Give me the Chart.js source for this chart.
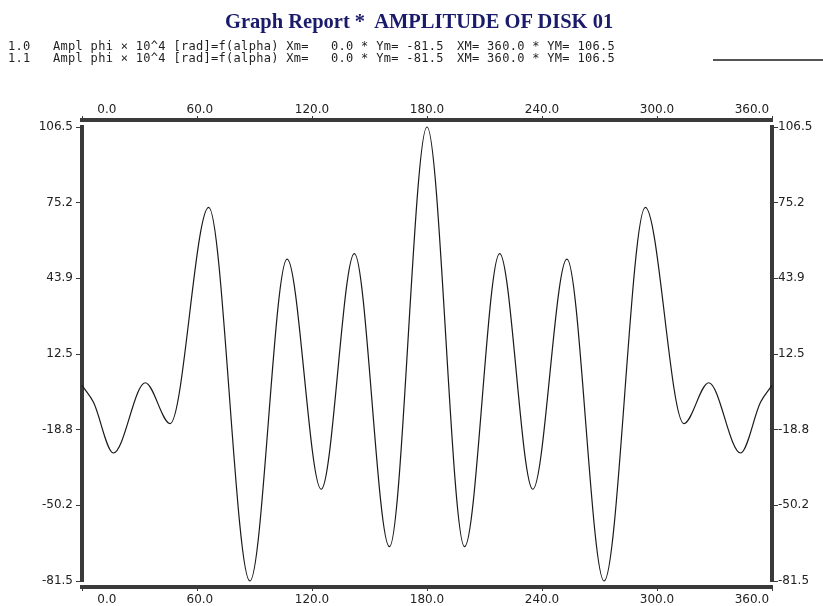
<!DOCTYPE html>
<html><head><meta charset="utf-8">
<script src="https://cdn.jsdelivr.net/npm/chart.js@4.4.1/dist/chart.umd.min.js"></script>
<style>
html,body{margin:0;padding:0;background:#fff;}
#wrap{position:relative;width:823px;height:606px;overflow:hidden;background:#fff;}
#c{position:absolute;left:0;top:0;}
.t{position:absolute;white-space:pre;}
#title{left:225px;top:11px;font:bold 20.5px/20.5px 'Liberation Serif',serif;color:#1b1b6b;}
.hd{font:12px/12px 'DejaVu Sans Mono',monospace;letter-spacing:0.3px;color:#1e1e1e;}
#rule{position:absolute;left:713px;top:59px;width:110px;height:2px;background:#555;}
</style></head><body>
<div id="wrap">
<canvas id="c" width="823" height="606"></canvas>
<div id="title" class="t">Graph Report *  AMPLITUDE OF DISK 01</div>
<div id="hdr"></div>
<div id="rule"></div>
</div>
<script>
// ---- data ----
const alphaDeg  = [0, 6, 16.4, 33.0, 46.0, 66.1, 87.6, 107.0, 124.8, 142.1, 160.4, 180, 199.6, 217.9, 235.2, 253.0, 272.4, 293.9, 314.0, 327.0, 343.6, 354, 360];
const amplitude = [-0.5, -7.5, -28.5, 0.6, -16.3, 73.2, -81.5, 51.8, -43.5, 54.1, -67.3, 106.5, -67.3, 54.1, -43.5, 51.8, -81.5, 73.2, -16.3, 0.6, -28.5, -7.5, -0.5];

const xTickValues = [0, 60, 120, 180, 240, 300, 360];
const xTickLabels = ['0.0', '60.0', '120.0', '180.0', '240.0', '300.0', '360.0'];
const yMin = -81.5, yMax = 106.5;
const yTickLabels = ['-81.5', '-50.2', '-18.8', '12.5', '43.9', '75.2', '106.5'];

const seriesIds  = ['1.0', '1.1'];
const seriesName = 'Ampl phi \u00d7 10^4 [rad]=f(alpha)';
const headXm = '0.0', headYm = '-81.5', headXM = '360.0', headYM = '106.5';

// ---- layout / style constants ----
const xLabelAnchors = [13, 61.5, 120, 180, 240, 300, 349.5];
const headerSegX = [8, 53, 331, 457];
const headerRowTop = [40, 52];
const AXIS = '#3a3a3a', TXT = '#222';

// header rows
const hdr = document.getElementById('hdr');
seriesIds.forEach((id, r) => {
  const segs = [id, seriesName + ' Xm=', headXm + ' * Ym= ' + headYm, 'XM= ' + headXM + ' * YM= ' + headYM];
  segs.forEach((s, k) => {
    const d = document.createElement('div');
    d.className = 't hd';
    d.style.left = headerSegX[k] + 'px';
    d.style.top = headerRowTop[r] + 'px';
    d.textContent = s;
    hdr.appendChild(d);
  });
});

const yStep = (yMax - yMin) / (yTickLabels.length - 1);
const yTickValues = yTickLabels.map((_, i) => yMin + i * yStep);

const tickFont = {family: "'DejaVu Sans', sans-serif", size: 12, lineHeight: 1};
const setTicks = vals => s => { s.ticks = vals.map(v => ({value: v})); };
const fixH = h => s => { s.height = h; };
const fixW = w => s => { s.width = w; };

const spacer = (pos, h, weight) => ({
  type: 'linear', position: pos, weight: weight, min: 0, max: 360,
  ticks: {display: false}, grid: {display: false, drawTicks: false},
  border: {display: false}, afterFit: fixH(h)
});
const markAxis = (pos, weight) => ({
  type: 'linear', position: pos, weight: weight, min: 0, max: 360,
  afterBuildTicks: setTicks(xTickValues),
  ticks: {display: false, autoSkip: false},
  grid: {display: true, drawOnChartArea: false, drawTicks: true, tickLength: 4, color: AXIS, lineWidth: 1},
  border: {display: true, color: AXIS, width: 4},
  afterFit: fixH(4)
});
const labelAxis = (pos, weight, h, pad) => ({
  type: 'linear', position: pos, weight: weight, min: 0, max: 360,
  afterBuildTicks: setTicks(xLabelAnchors),
  ticks: {autoSkip: false, maxRotation: 0, minRotation: 0, padding: pad, font: tickFont, color: TXT,
          callback: (v, i) => xTickLabels[i]},
  grid: {display: false, drawTicks: false}, border: {display: false},
  afterFit: fixH(h)
});
const yAxis = (pos, w, pad) => ({
  type: 'linear', position: pos, min: yMin, max: yMax,
  afterBuildTicks: setTicks(yTickValues),
  ticks: {autoSkip: false, padding: pad, font: tickFont, color: TXT, callback: (v, i) => yTickLabels[i]},
  grid: {display: true, drawOnChartArea: false, drawTicks: true, tickLength: 6, color: AXIS, lineWidth: 1},
  border: {display: true, color: AXIS, width: 4},
  afterFit: fixW(w)
});

new Chart(document.getElementById('c'), {
  type: 'line',
  data: {
    datasets: [{
      data: alphaDeg.map((a, i) => ({x: a, y: amplitude[i]})),
      borderColor: '#1a1a1a', borderWidth: 1.2, pointRadius: 0,
      cubicInterpolationMode: 'monotone', fill: false, clip: false,
      xAxisID: 'x', yAxisID: 'y'
    }]
  },
  options: {
    responsive: false, devicePixelRatio: 1, animation: false,
    layout: {padding: {top: 90, bottom: 0, left: 0, right: 0}},
    plugins: {legend: {display: false}, tooltip: {enabled: false}, title: {display: false}},
    scales: {
      x: markAxis('bottom', 1),
      xBotGap: spacer('bottom', 6, 0),
      xBotLab: labelAxis('bottom', 2, 15, 3),
      xTop: markAxis('top', 1),
      xTopGap: spacer('top', 7, 0),
      xTopLab: labelAxis('top', 2, 26, 0),
      y: yAxis('left', 82, 3),
      y2: yAxis('right', 51, 0)
    }
  }
});
</script>
</body></html>
